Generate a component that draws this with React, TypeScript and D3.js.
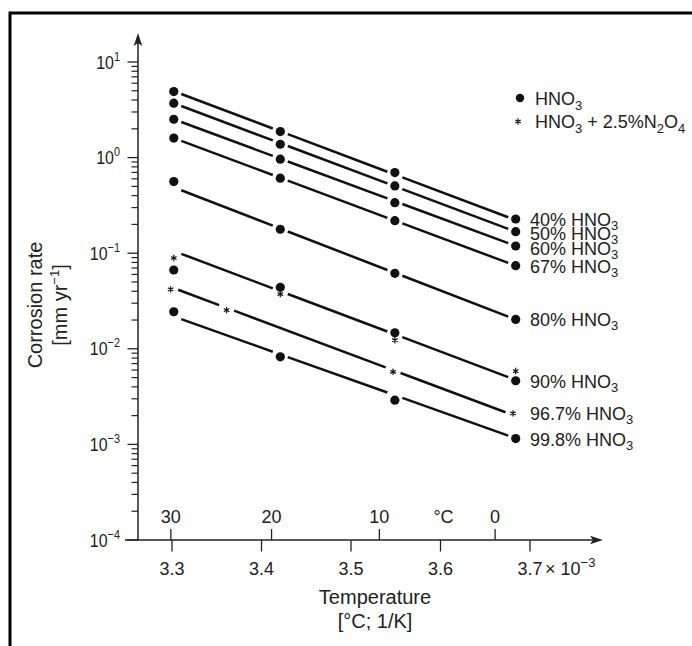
import React from 'react';
import * as d3 from 'd3';

const FONT = '"Liberation Sans", Arial, Helvetica, sans-serif';

// reciprocal temperature of the measurement columns (x 10^-3 1/K)
const invT = [3.302, 3.421, 3.549, 3.684];
const invT967 = [3.2985, 3.361, 3.547, 3.681];
const fitX = [3.302, 3.684];

const labels = ['40%', '50%', '60%', '67%', '80%', '90%', '96.7%', '99.8%'];

// corrosion rate, mm/yr
const hno3_40 = [4.91, 1.87, 0.697, 0.228];
const hno3_50 = [3.71, 1.38, 0.506, 0.168];
const hno3_60 = [2.52, 0.962, 0.338, 0.119];
const hno3_67 = [1.6, 0.609, 0.219, 0.074];
const hno3_80 = [0.561, 0.178, 0.0616, 0.0203];
const hno3_90 = [0.0667, 0.044, 0.0147, 0.00463];
const n2o4_90 = [0.0891, 0.0374, 0.0123, 0.00585];
const n2o4_967 = [0.0419, 0.0254, 0.00575, 0.00211];
const hno3_998 = [0.0244, 0.00825, 0.0029, 0.00115];

// fitted straight lines: value at fitX[0] and fitX[1]
const fits = [
  [4.95, 0.222],
  [3.71, 0.168],
  [2.52, 0.119],
  [1.6, 0.074],
  [0.488, 0.0202],
  [0.1055, 0.00473],
  [0.0431, 0.00198],
  [0.0218, 0.00116],
];

const celsiusTicks = [30, 20, 10, 0];
const invTicks = [3.3, 3.4, 3.5, 3.6, 3.7];
const decades = [-4, -3, -2, -1, 0, 1];

const series = [
  { label: labels[0], dots: hno3_40, stars: null, cols: invT, fit: fits[0] },
  { label: labels[1], dots: hno3_50, stars: null, cols: invT, fit: fits[1] },
  { label: labels[2], dots: hno3_60, stars: null, cols: invT, fit: fits[2] },
  { label: labels[3], dots: hno3_67, stars: null, cols: invT, fit: fits[3] },
  { label: labels[4], dots: hno3_80, stars: null, cols: invT, fit: fits[4] },
  { label: labels[5], dots: hno3_90, stars: n2o4_90, cols: invT, fit: fits[5] },
  { label: labels[6], dots: null, stars: n2o4_967, cols: invT967, fit: fits[6] },
  { label: labels[7], dots: hno3_998, stars: null, cols: invT, fit: fits[7] },
];

const axisX = 138;
const gap = 7.5;

const x = d3.scaleLinear().domain([3.3, 3.7]).range([172, 530]);
const y = d3.scaleLog().domain([1e-4, 10]).range([540, 62]);
const axisY = y(1e-4);

const star = d3.symbol(d3.symbolAsterisk, 28)();
const line = d3.line();

const minorTicks = decades.slice(0, -1).flatMap(k => d3.range(2, 10).map(m => m * Math.pow(10, k)));

// label baselines next to the last marker, kept at least 14.5px apart
const labelY: number[] = [];
series.forEach((s, i) => {
  const last = s.dots ? s.dots[s.dots.length - 1] : s.stars![s.stars!.length - 1];
  let ly = y(last) + 7;
  if (i > 0 && ly < labelY[i - 1] + 14.5) ly = labelY[i - 1] + 14.5;
  labelY.push(ly);
});

const App = () => {
  return (
    <svg width={692} height={646} style={{ position: 'absolute', left: 0, top: 0, background: '#fff' }} fontFamily={FONT}>
      <rect x={10} y={13} width={720} height={680} fill="none" stroke="#000" strokeWidth={3} />

      {/* y axis */}
      <line x1={axisX} x2={axisX} y1={axisY} y2={40} stroke="#222" strokeWidth={1.5} />
      <path d={`M${axisX},33 L${axisX + 4.3},46 L${axisX},43 L${axisX - 4.3},46 Z`} fill="#222" />
      {decades.map(k => (
        <line key={'M' + k} x1={axisX - 10.5} x2={axisX} y1={y(Math.pow(10, k))} y2={y(Math.pow(10, k))} stroke="#222" strokeWidth={1.3} />
      ))}
      {minorTicks.map((v, i) => (
        <line key={'m' + i} x1={axisX - 6.5} x2={axisX} y1={y(v)} y2={y(v)} stroke="#222" strokeWidth={1.2} />
      ))}
      {decades.map(k => (
        <g key={'L' + k} transform={`translate(120,${y(Math.pow(10, k)) + 6.5}) scale(0.84,1)`}>
          <text textAnchor="end" fontSize={19} fill="#222">
            10<tspan dy={-8} fontSize={13}>{k < 0 ? '\u2212' + -k : k}</tspan>
          </text>
        </g>
      ))}

      {/* x axis */}
      <line x1={125} x2={595} y1={axisY} y2={axisY} stroke="#222" strokeWidth={1.5} />
      <path d={`M603,${axisY} L590,${axisY - 4.3} L593,${axisY} L590,${axisY + 4.3} Z`} fill="#222" />
      {celsiusTicks.map(c => {
        const px = x(1000 / (c + 273.15));
        return (
          <g key={'c' + c}>
            <line x1={px} x2={px} y1={axisY} y2={axisY - 11} stroke="#222" strokeWidth={1.3} />
            <text x={px} y={523} textAnchor="middle" fontSize={18} fill="#222">{c}</text>
          </g>
        );
      })}
      <text x={x(3.6) + 3} y={523} textAnchor="middle" fontSize={18} fill="#222">°C</text>
      {invTicks.map(v => (
        <g key={'t' + v}>
          <line x1={x(v)} x2={x(v)} y1={axisY} y2={axisY + 11.5} stroke="#222" strokeWidth={1.3} />
          <text x={x(v)} y={575} textAnchor="middle" fontSize={18} fill="#222">{v.toFixed(1)}</text>
        </g>
      ))}
      <text x={x(3.7) + 15} y={575} fontSize={18} fill="#222">
        × 10<tspan dy={-8} fontSize={13}>−3</tspan>
      </text>

      {/* axis titles */}
      <text x={375} y={604} textAnchor="middle" fontSize={20} fill="#222">Temperature</text>
      <text x={375} y={628} textAnchor="middle" fontSize={20} fill="#222">[°C; 1/K]</text>
      <text transform="translate(42,305) rotate(-90)" textAnchor="middle" fontSize={20} fill="#222">Corrosion rate</text>
      <text transform="translate(67,305) rotate(-90)" textAnchor="middle" fontSize={20} fill="#222">
        [mm yr<tspan dy={-8} fontSize={13}>−1</tspan><tspan dy={8}>]</tspan>
      </text>

      {/* series */}
      {series.map((s, si) => {
        const fx0 = x(fitX[0]);
        const fx1 = x(fitX[1]);
        const fy0 = y(s.fit[0]);
        const fy1 = y(s.fit[1]);
        const ly = (px: number) => fy0 + ((px - fx0) * (fy1 - fy0)) / (fx1 - fx0);
        const cols = s.cols.map(v => x(v));
        const segs = d3.pairs(cols).map(([a, b]) => line([[a + gap, ly(a + gap)], [b - gap, ly(b - gap)]]));
        return (
          <g key={s.label}>
            {segs.map((d, i) => (
              <path key={i} d={d || ''} fill="none" stroke="#111" strokeWidth={2.5} />
            ))}
            {s.dots && s.dots.map((v, i) => (
              <circle key={'d' + i} cx={cols[i]} cy={y(v)} r={4.6} fill="#111" />
            ))}
            {s.stars && s.stars.map((v, i) => (
              <path key={'s' + i} d={star || ''} transform={`translate(${cols[i]},${y(v)})`} fill="none" stroke="#111" strokeWidth={1.2} />
            ))}
            <text x={530} y={labelY[si]} fontSize={18} fill="#222">
              {s.label} HNO<tspan dy={4} fontSize={13}>3</tspan>
            </text>
          </g>
        );
      })}

      {/* legend */}
      <circle cx={520} cy={98} r={4.2} fill="#111" />
      <text x={535} y={105} fontSize={18} fill="#222">
        HNO<tspan dy={5} fontSize={13}>3</tspan>
      </text>
      <path d={star || ''} transform="translate(518,121.5)" fill="none" stroke="#111" strokeWidth={1.2} />
      <text x={535} y={128} fontSize={18} fill="#222">
        HNO<tspan dy={5} fontSize={13}>3</tspan>
        <tspan dy={-5}> + 2.5%N</tspan>
        <tspan dy={5} fontSize={13}>2</tspan>
        <tspan dy={-5}>O</tspan>
        <tspan dy={5} fontSize={13}>4</tspan>
      </text>
    </svg>
  );
};

export default App;
